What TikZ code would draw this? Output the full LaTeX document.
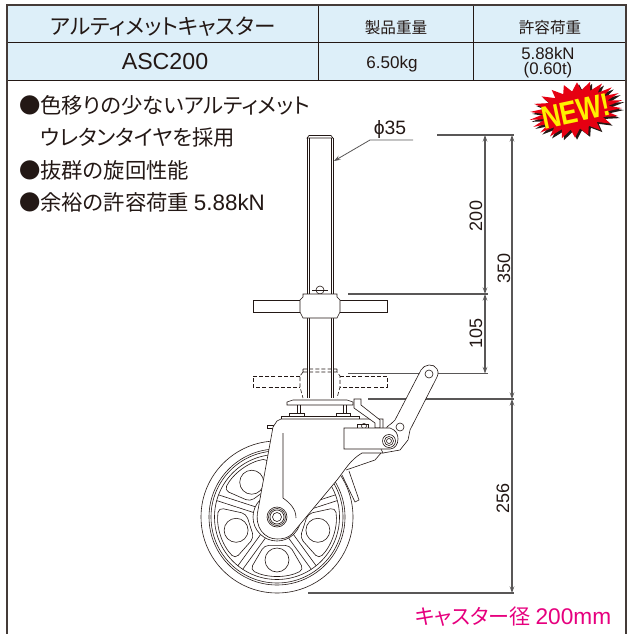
\documentclass[tikz,border=0pt]{standalone}
\usepackage{fontspec}
\setmainfont{Liberation Sans}
\newfontfamily\cjk[RawFeature = {+palt}]{Noto Sans CJK JP}
\usetikzlibrary{arrows.meta}
\definecolor{inkcol}{HTML}{231815}
\definecolor{dimcol}{HTML}{595757}
\definecolor{headcol}{HTML}{DDEFF9}
\definecolor{pinkcol}{HTML}{E6007E}
\definecolor{newred}{HTML}{E60012}
\definecolor{newyel}{HTML}{FFF000}
\tikzset{
  part/.style = {draw = inkcol, line width = 0.45pt},
  partw/.style = {part, fill = white},
  ghost/.style = {draw = inkcol, line width = 0.45pt, dashed, dash pattern = on 3pt off 1.6pt},
  dimline/.style = {draw = dimcol, line width = 0.8pt},
  dimarrow/.style = {dimline, {Stealth[length = 5pt, width = 3.5pt, inset = 2pt]}-{Stealth[length = 5pt, width = 3.5pt, inset = 2pt]}},
  dimtext/.style = {rotate = 90, text = inkcol, font = \fontsize{13.5}{14}\selectfont},
  rule/.style = {draw = inkcol, line width = 0.7pt},
  bullet/.style = {anchor = west, inner sep = 0pt, text = inkcol, font = \fontsize{16}{17}\selectfont\cjk},
}
\begin{document}
\begin{tikzpicture}[x = 0.75pt, y = -0.75pt]
\useasboundingbox (0, 0) rectangle (629, 634);
% table
\fill[headcol] (7, 5) rectangle (626, 80);
\draw[rule] (7, 42) -- (626, 42) (7, 80) -- (626, 80) (318, 5) -- (318, 80) (473, 5) -- (473, 80);
\draw[draw = inkcol!85!white, line width = 1.4pt] (7, 634) -- (7, 5) -- (626, 5) -- (626, 634);
\node (name) at (163, 27) [text = inkcol, font = \fontsize{16.2}{17}\selectfont\cjk] {アルティメットキャスター};
\node (weighthead) at (396, 28) [text = inkcol, font = \fontsize{11.7}{13}\selectfont\cjk] {製品重量};
\node (loadhead) at (550, 28) [text = inkcol, font = \fontsize{11.7}{13}\selectfont\cjk] {許容荷重};
\node (model) at (165, 62) [text = inkcol, font = \fontsize{17.4}{18}\selectfont] {ASC200};
\node (weight) at (392, 64) [text = inkcol, font = \fontsize{12.8}{14}\selectfont] {6.50kg};
\node (loadkn) at (548, 53) [text = inkcol, font = \fontsize{12.6}{14}\selectfont] {5.88kN};
\node (loadt) at (548, 70) [text = inkcol, font = \fontsize{12.6}{14}\selectfont] {(0.60t)};
% features
\node (textone) at (19, 105) [bullet] {●色移りの少ないアルティメット};
\node (texttwo) at (40, 137) [bullet] {ウレタンタイヤを採用};
\node (textthree) at (19, 170) [bullet] {●抜群の旋回性能};
\node (textfour) at (19, 202) [bullet] {●余裕の許容荷重 {\rmfamily\fontsize{16.8}{18}\selectfont 5.88kN}};
% new badge
\fill[inkcol, shift = {(578, 112)}, rotate = 12] plot[domain = 0:360, samples = 45] ({(1 + 0.18 * cos(22 * \x)) * 40 * cos(\x)}, {(1 + 0.18 * cos(22 * \x)) * 23 * sin(\x)}) -- cycle;
\fill[newred, shift = {(576, 110)}, rotate = 12] plot[domain = 0:360, samples = 45] ({(1 + 0.18 * cos(22 * \x)) * 40 * cos(\x)}, {(1 + 0.18 * cos(22 * \x)) * 23 * sin(\x)}) -- cycle;
\node (newmark) at (576, 111) [rotate = 12, xscale = 0.82, text = newyel, font = \fontsize{24}{25}\selectfont\bfseries] {NEW!};
% dimension lines
\coordinate (topa) at (437, 135);
\coordinate (topb) at (514, 135);
\coordinate (handa) at (348, 294);
\coordinate (handb) at (488, 294);
\coordinate (dasha) at (348, 373.5);
\coordinate (dashb) at (488, 373.5);
\coordinate (basea) at (368, 399);
\coordinate (baseb) at (514, 399);
\coordinate (floora) at (308, 593);
\coordinate (floorb) at (514, 593);
\draw[dimline] (topa) -- (topb);
\draw[dimline] (handa) -- (handb);
\draw[dimline] (dasha) -- (dashb);
\draw[dimline] (basea) -- (baseb);
\draw[dimline] (floora) -- (floorb);
\draw[dimarrow] (485, 135) -- (485, 294);
\draw[dimarrow] (485, 294) -- (485, 373.5);
\draw[dimarrow] (512, 135) -- (512, 399);
\draw[dimarrow] (512, 399) -- (512, 593);
\node (dimtwo) at (476, 216) [dimtext] {200};
\node (dimthree) at (504, 268) [dimtext] {350};
\node (dimone) at (476, 333) [dimtext] {105};
\node (dimfour) at (503, 498) [dimtext] {256};
\node (dia) at (390, 130) [text = inkcol, font = \fontsize{14.5}{15}\selectfont] {ϕ35};
\coordinate (diaa) at (413, 140);
\coordinate (diab) at (370, 140);
\coordinate (diac) at (334, 161);
\draw[dimline, line width = 0.6pt, -{Stealth[length = 5pt, width = 3.5pt, inset = 2pt]}] (diaa) -- (diab) -- (diac);
\node (wheelsize) at (513, 617) [text = pinkcol, font = \fontsize{15.8}{17}\selectfont\cjk] {キャスター径 {\rmfamily\fontsize{17}{18}\selectfont 200mm}};
% wheel
\coordinate (axle) at (277, 517);
\draw[part] (axle) circle (76) (axle) circle (68) (axle) circle (66) (axle) circle (62.5);
\foreach \a in {90, 162, 234, 306, 18} {
  \draw[part, shift = {(axle)}, rounded corners = 3.5pt] (\a - 24:31) -- (\a + 24:31) -- (\a + 27:59) arc[start angle = \a + 27, end angle = \a - 27, radius = 59] -- cycle;
  \draw[part, shift = {(axle)}] (\a:43) circle (12);
  \draw[part, shift = {(axle)}, rotate = -\a - 36] (24, -3) -- (62.5, -3) (24, 3) -- (62.5, 3);
}
\draw[part] (axle) circle (24);
% spindle
\draw[part] (307, 138) -- (309, 135.5) -- (331, 135.5) -- (333, 138) -- cycle;
\draw[part] (307, 138) -- (307, 398) (309, 138) -- (309, 398) (331, 138) -- (331, 398) (333, 138) -- (333, 398);
\draw[part] (312, 290) -- (328, 290);
\draw[part] (320, 290) circle (4);
% lower handle, dashed
\draw[ghost] (300, 376) -- (253, 376) -- (253, 387) -- (300, 387) (340, 376) -- (387, 376) -- (387, 387) -- (340, 387);
\draw[ghost] (303, 372) -- (337, 372) -- (340, 376) -- (340, 387) -- (337, 398) (303, 372) -- (300, 376) -- (300, 387) -- (303, 398) (303, 369) -- (337, 369) (303, 369) -- (303, 372) (337, 369) -- (337, 372);
% upper handle
\draw[partw] (300, 300) -- (253, 300) -- (253, 312) -- (300, 312) (340, 300) -- (387, 300) -- (387, 312) -- (340, 312);
\draw[partw] (303, 294) -- (337, 294) -- (337, 297) -- (340, 300) -- (340, 312) -- (337, 318) -- (303, 318) -- (300, 312) -- (300, 300) -- (303, 297) -- cycle;
% top plate
\draw[partw] (287, 405) -- (287, 402) -- (293, 400) -- (347, 400) -- (353, 402) -- (353, 405) -- cycle;
\draw[part] (297, 405) -- (297, 413) (300, 405) -- (300, 413) (343, 405) -- (343, 413) (346, 405) -- (346, 413);
\draw[partw] (289, 413) rectangle (304, 416);
\draw[partw] (336, 413) rectangle (350, 416);
% brake shoe
\draw[partw] (342, 475) -- (355, 502) -- (359, 500) -- (349, 471);
% fork
\draw[partw] (267, 425) rectangle (273, 428);
\draw[partw] (281, 416) -- (359, 416) -- (359, 419) -- (281, 419) -- cycle;
\draw[partw] (281, 419) -- (277, 421) -- (273, 427) -- (258, 510) .. controls (254, 528) and (265, 539) .. (277, 539) .. controls (283, 539) and (288, 538) .. (292, 534) -- (337, 480) .. controls (345, 470) and (350, 460) .. (362, 453) -- (383, 453) -- (383, 419) -- cycle;
\draw[part] (283, 433) -- (283, 498) .. controls (290, 503) and (296, 509) .. (296, 518);
\draw[part] (346, 470) -- (375, 460) -- (381, 453);
\draw[part] (277, 517) circle (10) (277, 517) circle (8.5) (277, 517) circle (7) (277, 517) circle (4.5);
% lever
\draw[partw] (354, 405) -- (354, 399) -- (361, 399) -- (361, 405) -- (380, 420) -- (380, 428) -- (375, 428) -- (375, 423) -- (354, 408) -- cycle;
\draw[partw] (357, 428) -- (357, 424) -- (368, 424) -- (368, 428);
\draw[part] (364, 426) circle (2.5);
\draw[partw] (421, 370) .. controls (424, 364) and (434, 363) .. (437, 369) .. controls (439, 373) and (438, 375) .. (436, 379) -- (410, 430) -- (408, 440) -- (400, 450) -- (383, 453) -- (381, 449) -- (387, 427) .. controls (390, 424) and (393, 423) .. (395, 420) -- cycle;
\draw[partw] (400, 427) circle (4);
\draw[part] (429, 374) circle (4);
\draw[partw] (344, 428) -- (390, 428) .. controls (396, 430) and (398, 434) .. (398, 439) .. controls (398, 444) and (395, 449) .. (390, 449) -- (344, 449) -- cycle;
\draw[partw] (389, 441) circle (6.5);
\draw[part] (389, 441) circle (4.5) (389, 441) circle (2.5);
\end{tikzpicture}
\end{document}
